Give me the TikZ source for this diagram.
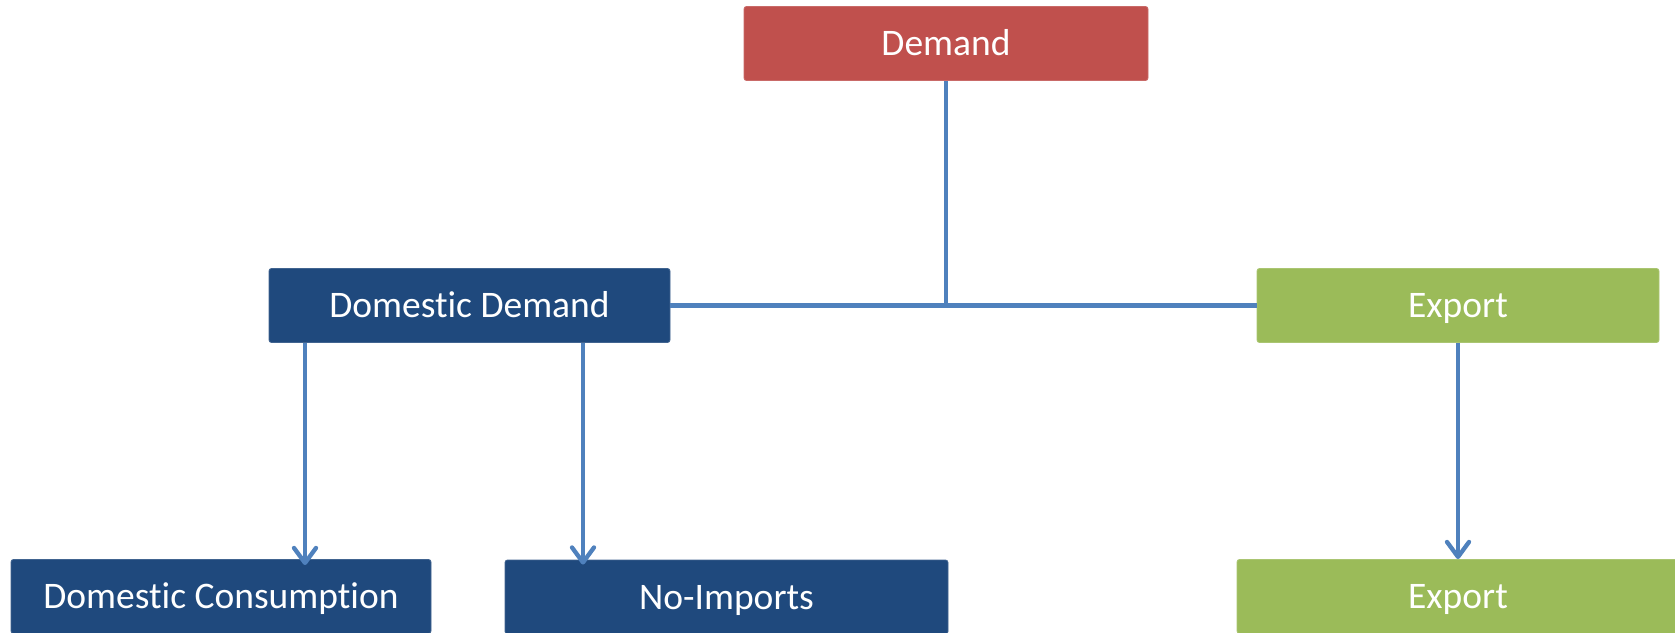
\documentclass[tikz,border=0pt]{standalone}
\usepackage{fontspec}
\setmainfont{Carlito}[Ligatures={NoCommon}]
\usetikzlibrary{arrows.meta}
\definecolor{cred}{HTML}{C0504D}
\definecolor{cblue}{HTML}{1F497D}
\definecolor{cgreen}{HTML}{9BBB59}
\definecolor{cline}{HTML}{4F81BD}
\begin{document}
\begin{tikzpicture}[x=1pt,y=-1pt,
  box/.style={rectangle, rounded corners=2.5pt, inner sep=0pt, text=white,
    font=\fontsize{37.5}{42}\selectfont, minimum height=74pt,
    text height=24pt, text depth=0pt},
  redbox/.style={box, fill=cred, draw=cred!85!white, line width=0.8pt},
  bluebox/.style={box, fill=cblue, draw=cblue!85!white, line width=0.8pt},
  greenbox/.style={box, fill=cgreen, draw=cgreen!85!white, line width=0.8pt},
  conn/.style={draw=cline, line width=4.3pt},
  arr/.style={conn, -{Straight Barb[length=15pt,width=22pt,line cap=round,line join=round]}},
]
\useasboundingbox (0,0) rectangle (1675,632);
\clip (0,0) rectangle (1675,632);
\node[redbox, minimum width=404pt] (dem) at (946,43.5) {Demand};
\node[bluebox, minimum width=401pt] (dd) at (469.5,305.5) {Domestic Demand};
\node[greenbox, minimum width=402pt] (ex) at (1458,305.5) {Export};
\node[bluebox, minimum width=420pt] (dc) at (221,596.5) {Domestic Consumption};
\node[bluebox, minimum width=443pt] (ni) at (726.5,597) {No-Imports};
\node[greenbox, minimum width=442pt] (ex2) at (1458,596.5) {Export};
\coordinate (j) at (dem.south |- dd.east);
\coordinate (a1) at (305,0);
\coordinate (a2) at (583,0);
\draw[conn] (dem.south) -- (j);
\draw[conn] (dd.east) -- (ex.west);
\draw[arr, shorten >=-6pt] (a1 |- dd.south) -- (a1 |- dc.north);
\draw[arr, shorten >=-5pt] (a2 |- dd.south) -- (a2 |- ni.north);
\draw[arr] (ex.south) -- (ex2.north);
\end{tikzpicture}
\end{document}
